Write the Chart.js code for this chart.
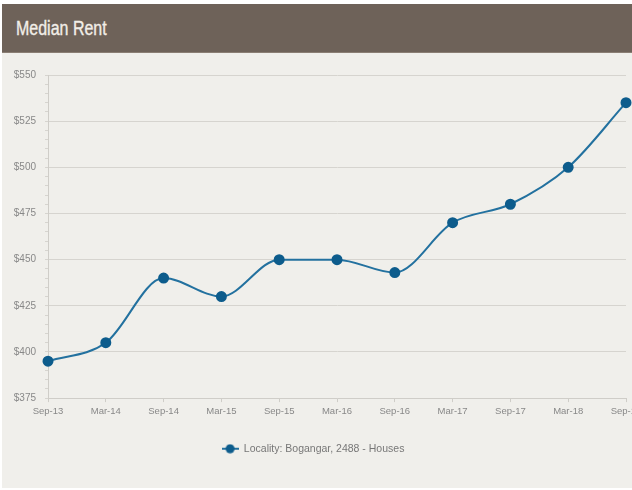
<!DOCTYPE html>
<html>
<head>
<meta charset="utf-8">
<script src="https://cdn.jsdelivr.net/npm/chart.js@4.4.0/dist/chart.umd.min.js"></script>
<style>
  html, body { margin: 0; padding: 0; background: #ffffff; }
  #wrap { position: relative; width: 632px; height: 490px; overflow: hidden; font-family: "Liberation Sans", Arial, sans-serif; }
  #panel { position: absolute; left: 2px; top: 4px; width: 630px; height: 484px; background: #f0efeb; }
  #header { position: absolute; left: 2px; top: 4px; width: 630px; height: 48px; background: #6e6259; border-bottom: 1px solid #8a7e74; }
  #header span { position: absolute; left: 14px; top: 13px; color: #f2eee8; font-size: 19.5px; line-height: 22px; white-space: nowrap; transform: scaleX(0.82); transform-origin: 0 0; -webkit-text-stroke: 0.35px #f2eee8; }
  #cv { position: absolute; left: 0; top: 53px; }
</style>
</head>
<body>
<div id="wrap">
  <div id="panel"></div>
  <div id="header"><span>Median Rent</span></div>
  <canvas id="cv" width="662" height="437"></canvas>
</div>
<script>
const categories = ["Sep-13","Mar-14","Sep-14","Mar-15","Sep-15","Mar-16","Sep-16","Mar-17","Sep-17","Mar-18","Sep-18"];
const rentValues = [395, 405, 440, 430, 450, 450, 443, 470, 480, 500, 535];
const seriesLabel = "Locality: Bogangar, 2488 - Houses";
const yMin = 375, yMax = 550, yMajor = 25, yMinor = 5;

const lineColor = "#23719f";
const dotColor = "#0d5c8c";

// legend marker: line through a dot
const marker = document.createElement('canvas');
marker.width = 17; marker.height = 10;
(function(){
  const c = marker.getContext('2d');
  c.strokeStyle = lineColor; c.lineWidth = 2;
  c.beginPath(); c.moveTo(0,5); c.lineTo(17,5); c.stroke();
  c.fillStyle = dotColor;
  c.beginPath(); c.arc(8.5,5,4.5,0,Math.PI*2); c.fill();
})();

const fam = "'Liberation Sans', Arial, sans-serif";

new Chart(document.getElementById('cv'), {
  type: 'line',
  data: {
    labels: categories,
    datasets: [{
      label: seriesLabel,
      data: rentValues,
      borderColor: lineColor,
      backgroundColor: dotColor,
      pointBackgroundColor: dotColor,
      pointBorderColor: dotColor,
      pointRadius: 4.5,
      pointStyle: 'circle',
      borderWidth: 2,
      cubicInterpolationMode: 'monotone',
      fill: false
    }]
  },
  options: {
    responsive: false,
    animation: false,
    layout: { padding: { top: 22, right: 36, left: 0, bottom: 26 } },
    plugins: {
      tooltip: { enabled: false },
      legend: {
        position: 'bottom',
        labels: {
          usePointStyle: true,
          pointStyleWidth: 17,
          color: '#777',
          font: { family: fam, size: 10.5 },
          padding: 22,
          generateLabels: (chart) => [{
            text: seriesLabel,
            pointStyle: marker,
            fontColor: '#777',
            datasetIndex: 0,
            hidden: false
          }]
        }
      }
    },
    scales: {
      x: {
        offset: false,
        grid: { drawOnChartArea: false, drawTicks: true, tickLength: 4, tickColor: '#cfcdc8' },
        border: { color: '#cfcdc8' },
        ticks: { color: '#888', font: { family: fam, size: 9.5 }, maxRotation: 0, autoSkip: false, padding: 4 }
      },
      y: {
        min: yMin, max: yMax,
        afterFit: (s) => { s.width = 48; },
        grid: {
          color: (ctx) => (ctx.tick && (ctx.tick.value - yMin) % yMajor === 0) ? '#d6d4cf' : 'rgba(0,0,0,0)',
          tickColor: '#d6d4cf',
          tickLength: 3,
          drawTicks: true
        },
        border: { color: '#cfcdc8' },
        ticks: {
          stepSize: yMinor,
          autoSkip: false,
          color: '#888',
          font: { family: fam, size: 10 },
          padding: 9,
          callback: (v) => ((v - yMin) % yMajor === 0) ? ('$' + v) : ''
        }
      }
    }
  }
});
</script>
</body>
</html>
